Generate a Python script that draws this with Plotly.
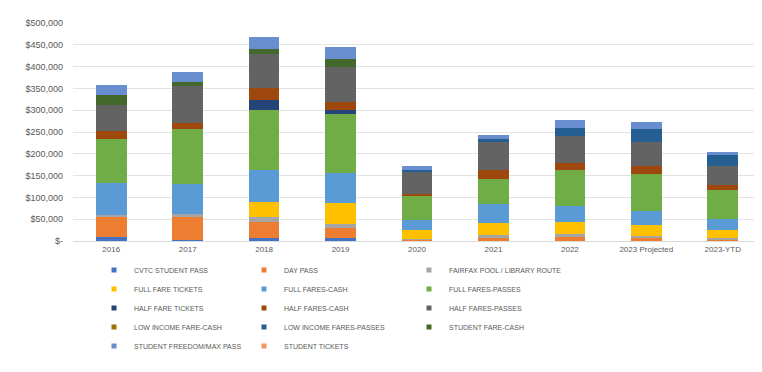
import plotly.graph_objects as go

categories = ["2016", "2017", "2018", "2019", "2020", "2021", "2022", "2023 Projected", "2023-YTD"]

series_names = [
    "CVTC STUDENT PASS", "DAY PASS", "FAIRFAX POOL / LIBRARY ROUTE",
    "FULL FARE TICKETS", "FULL FARES-CASH", "FULL FARES-PASSES",
    "HALF FARE TICKETS", "HALF FARES-CASH", "HALF FARES-PASSES",
    "LOW INCOME FARE-CASH", "LOW INCOME FARES-PASSES", "STUDENT FARE-CASH",
    "STUDENT FREEDOM/MAX PASS", "STUDENT TICKETS",
]

cvtc_student_pass      = [9000, 3000, 8000, 7000, 0, 0, 0, 0, 0]
day_pass               = [46000, 54000, 35000, 23000, 3000, 8000, 9000, 6000, 4000]
fairfax_pool_library   = [5000, 4000, 12000, 8000, 2000, 6000, 8000, 5000, 3000]
full_fare_tickets      = [0, 0, 34000, 50000, 21000, 28000, 26000, 25000, 19000]
full_fares_cash        = [73000, 69000, 73000, 69000, 23000, 44000, 37000, 33000, 24000]
full_fares_passes      = [101000, 126000, 138000, 135000, 54000, 57000, 84000, 84000, 66000]
half_fare_tickets      = [0, 0, 23000, 8000, 0, 0, 0, 0, 0]
half_fares_cash        = [18000, 15000, 27000, 18000, 5000, 19000, 15000, 19000, 13000]
half_fares_passes      = [61000, 84000, 80000, 80000, 52000, 64000, 61000, 54000, 42000]
low_income_fare_cash   = [0, 0, 0, 0, 0, 0, 0, 0, 0]
low_income_fares_pass  = [0, 0, 0, 0, 3000, 9000, 19000, 31000, 27000]
student_fare_cash      = [21000, 9000, 11000, 19000, 0, 0, 0, 0, 0]
student_freedom_max    = [24000, 23000, 27000, 27000, 8000, 9000, 18000, 17000, 5000]
student_tickets        = [0, 0, 0, 0, 0, 0, 0, 0, 0]

series_values = [
    cvtc_student_pass, day_pass, fairfax_pool_library, full_fare_tickets,
    full_fares_cash, full_fares_passes, half_fare_tickets, half_fares_cash,
    half_fares_passes, low_income_fare_cash, low_income_fares_pass,
    student_fare_cash, student_freedom_max, student_tickets,
]

colors = ["#4472C4", "#ED7D31", "#A5A5A5", "#FFC000", "#5B9BD5", "#70AD47",
          "#264478", "#9E480E", "#636363", "#997300", "#255E91", "#43682B",
          "#698ED0", "#F1975A"]

y_tick_vals = [0, 50000, 100000, 150000, 200000, 250000, 300000, 350000, 400000, 450000, 500000]
y_tick_text = ["$-", "$50,000", "$100,000", "$150,000", "$200,000", "$250,000",
               "$300,000", "$350,000", "$400,000", "$450,000", "$500,000"]

legend_ids = ["legend", "legend2", "legend3"]

fig = go.Figure()
for name, vals, col in zip(series_names, series_values, colors):
    fig.add_trace(go.Bar(x=categories, y=vals, name=name, marker_color=col,
                         marker_line_width=0, showlegend=False, legendgroup=name))
for i, (name, col) in enumerate(zip(series_names, colors)):
    fig.add_trace(go.Scatter(x=[None], y=[None], mode="markers", name=name,
                             marker=dict(symbol="square", size=5, color=col),
                             legendgroup=name, showlegend=True,
                             legend=legend_ids[i % 3]))

leg_common = dict(orientation="v", y=-0.066, xanchor="left", yanchor="top",
                  traceorder="normal", font=dict(size=7, color="#595959"),
                  itemsizing="trace", tracegroupgap=0, bgcolor="rgba(0,0,0,0)")

L = 65
W = 762 - L - 9

def px_to_paper(px):
    return (px - L) / W

fig.update_layout(
    barmode="stack",
    bargap=0.6,
    width=762, height=372,
    margin=dict(l=L, r=9, t=15, b=139, autoexpand=False),
    paper_bgcolor="white", plot_bgcolor="white",
    font=dict(family="Liberation Sans, Arial, sans-serif", color="#595959", size=8),
    xaxis=dict(showgrid=False, showline=True, linecolor="#D9D9D9", ticks="",
               tickfont=dict(size=8, color="#595959")),
    yaxis=dict(range=[0, 500000], tickvals=y_tick_vals, ticktext=y_tick_text,
               showgrid=True, gridcolor="#E3E3E3", zeroline=False,
               ticklabelstandoff=9, automargin=False,
               tickfont=dict(size=9, color="#595959")),
    legend=dict(x=px_to_paper(86), **leg_common),
    legend2=dict(x=px_to_paper(236), **leg_common),
    legend3=dict(x=px_to_paper(401), **leg_common),
)

fig.write_html("out.html")
